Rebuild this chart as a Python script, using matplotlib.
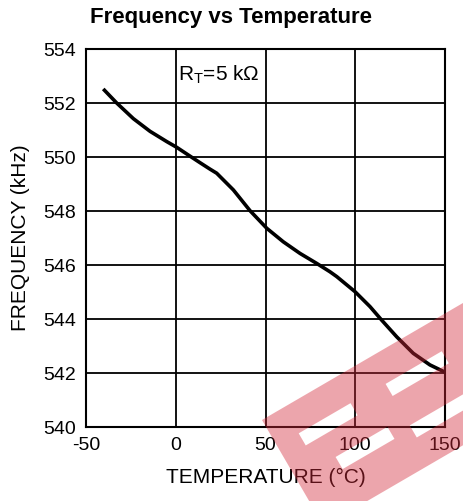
import matplotlib
matplotlib.use('Agg')
import matplotlib.pyplot as plt
import matplotlib.patches as mpatches
from matplotlib.path import Path
import numpy as np

# curve (RT = 5 kOhm)
temperature = [-40.4, -32.9, -23.6, -14.3, -5.0, 0.5, 8.9, 13.5, 19.1, 22.8, 32.1, 41.4, 50.7,
               59.9, 69.2, 78.5, 85.9, 89.7, 99.9, 108.2, 114.7, 123.1, 132.3, 141.6, 150.0]
frequency = [552.52, 552.0, 551.42, 550.95, 550.57, 550.36, 549.99, 549.79, 549.55, 549.4,
             548.78, 548.01, 547.36, 546.86, 546.43, 546.06, 545.75, 545.57, 545.01, 544.46,
             543.96, 543.34, 542.73, 542.30, 542.03]

x_ticks = [-50, 0, 50, 100, 150]
y_ticks = [540, 542, 544, 546, 548, 550, 552, 554]

plt.rcParams['font.family'] = ['Liberation Sans', 'DejaVu Sans']
plt.rcParams['mathtext.fontset'] = 'custom'
plt.rcParams['mathtext.rm'] = 'Liberation Sans'
plt.rcParams['axes.unicode_minus'] = False

W, H = 463, 501
fig = plt.figure(figsize=(W / 100, H / 100), dpi=100)
ax = fig.add_axes([86 / W, 1 - 427 / H, (445 - 86) / W, (427 - 49) / H])

ax.plot(temperature, frequency, color='black', linewidth=2.6, zorder=3,
        solid_capstyle='butt', solid_joinstyle='round')

ax.set_xlim(x_ticks[0], x_ticks[-1])
ax.set_ylim(y_ticks[0], y_ticks[-1])
ax.set_xticks(x_ticks)
ax.set_yticks(y_ticks)
ax.grid(True, color='black', linewidth=1.3)
ax.tick_params(length=0, labelsize=14, pad=7)
for spine in ax.spines.values():
    spine.set_linewidth(1.5)

ax.set_xlabel('TEMPERATURE (°C)', fontsize=15, labelpad=10)
ax.set_ylabel('FREQUENCY (kHz)', fontsize=15, labelpad=10)
fig.suptitle('Frequency vs Temperature', fontsize=16, fontweight='bold',
             x=0.5, y=1 - 17 / H, va='center')

ax.text(1.0, 553.05, r'R$_\mathregular{T}$=5 k$\mathregular{\Omega}$', fontsize=15,
        ha='left', va='center')

# pink watermark in the lower right corner (pixel coords of the reference)
a = np.array([262.0, 420.0])
u = np.array([0.864, -0.503])
v = np.array([0.503, 0.864])


def band_poly(u0, u1, v0, v1, reverse=False):
    pts = [a + u0 * u + v0 * v, a + u1 * u + v0 * v, a + u1 * u + v1 * v, a + u0 * u + v1 * v]
    if reverse:
        pts = pts[::-1]
    return [(p[0] / W, 1 - p[1] / H) for p in pts]


shapes = [band_poly(0, 320, 0, 123)]
holes = [(25, 85, 30, 44), (45, 105, 69, 83), (125, 190, 31, 45), (125, 190, 79, 93)]
for h in holes:
    shapes.append(band_poly(*h, reverse=True))

verts = []
codes = []
for poly in shapes:
    verts.extend(poly + [poly[0]])
    codes.extend([Path.MOVETO] + [Path.LINETO] * (len(poly) - 1) + [Path.CLOSEPOLY])
mark = mpatches.PathPatch(Path(verts, codes), facecolor='#D42A3A', edgecolor='none',
                          alpha=0.42, transform=fig.transFigure, zorder=10)
fig.add_artist(mark)

fig.savefig('out.png', dpi=100)
